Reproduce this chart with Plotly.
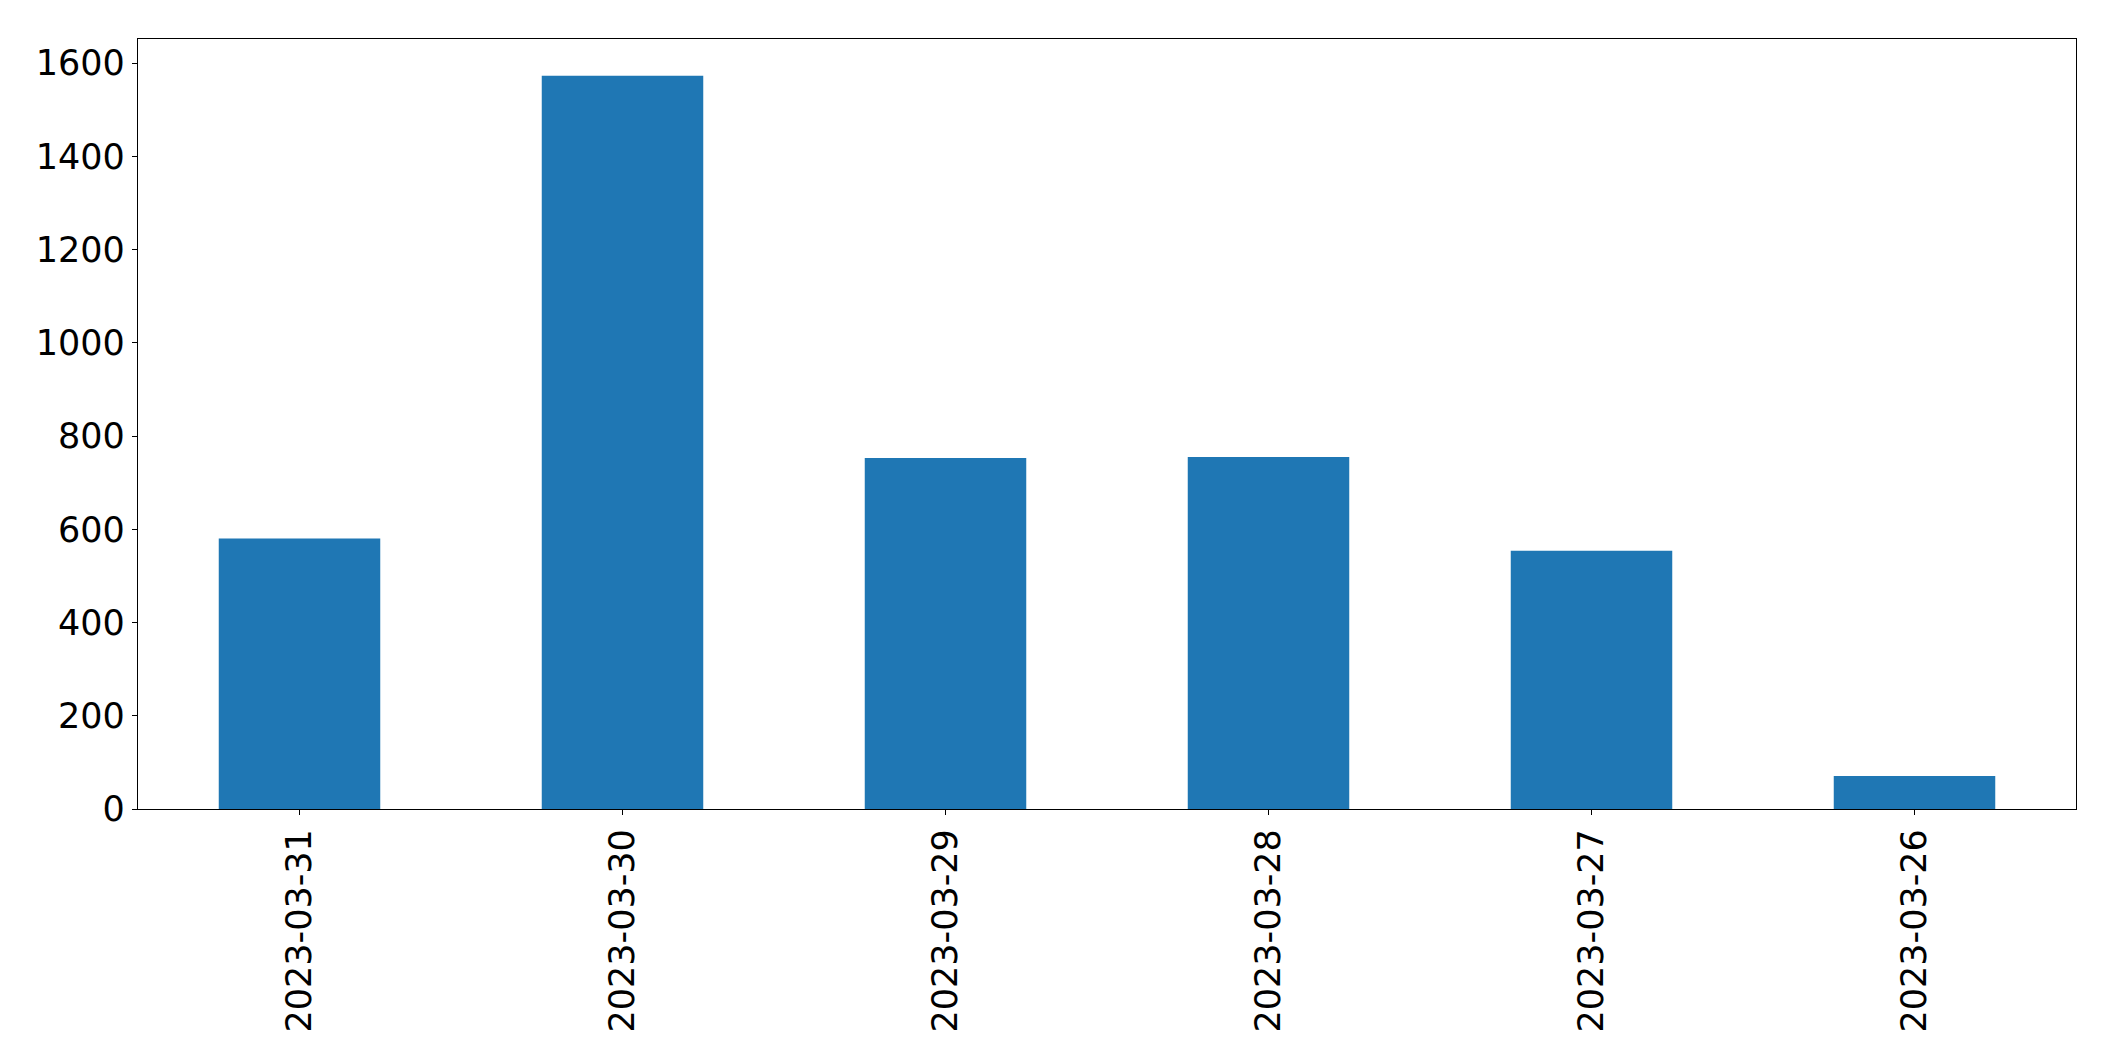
import plotly.graph_objects as go

dates = ["2023-03-31", "2023-03-30", "2023-03-29", "2023-03-28", "2023-03-27", "2023-03-26"]
counts = [580, 1573, 753, 755, 554, 71]
y_ticks = [0, 200, 400, 600, 800, 1000, 1200, 1400, 1600]

fig = go.Figure(
    go.Bar(
        x=list(range(len(dates))),
        y=counts,
        width=0.5,
        marker=dict(color="#1f77b4", line=dict(width=0)),
    )
)

axis_common = dict(
    showline=True,
    linecolor="black",
    linewidth=1.3,
    mirror=True,
    ticks="outside",
    ticklen=5,
    tickwidth=1.3,
    tickcolor="black",
    showgrid=False,
    zeroline=False,
    automargin=False,
    tickfont=dict(family="DejaVu Sans", size=35, color="black"),
)

# page body adds an 8px offset, so the figure is sized to fill the rest of the window
fig.update_layout(
    width=2107,
    height=1053,
    margin=dict(l=130, r=39, t=31, b=252),
    paper_bgcolor="white",
    plot_bgcolor="white",
    showlegend=False,
    xaxis=dict(
        range=[-0.5, len(dates) - 0.5],
        tickmode="array",
        tickvals=list(range(len(dates))),
        ticktext=dates,
        tickangle=-90,
        **axis_common,
    ),
    yaxis=dict(
        range=[0, max(counts) * 1.05],
        tickmode="array",
        tickvals=y_ticks,
        ticktext=[str(v) for v in y_ticks],
        **axis_common,
    ),
)

fig.write_html("out.html")
